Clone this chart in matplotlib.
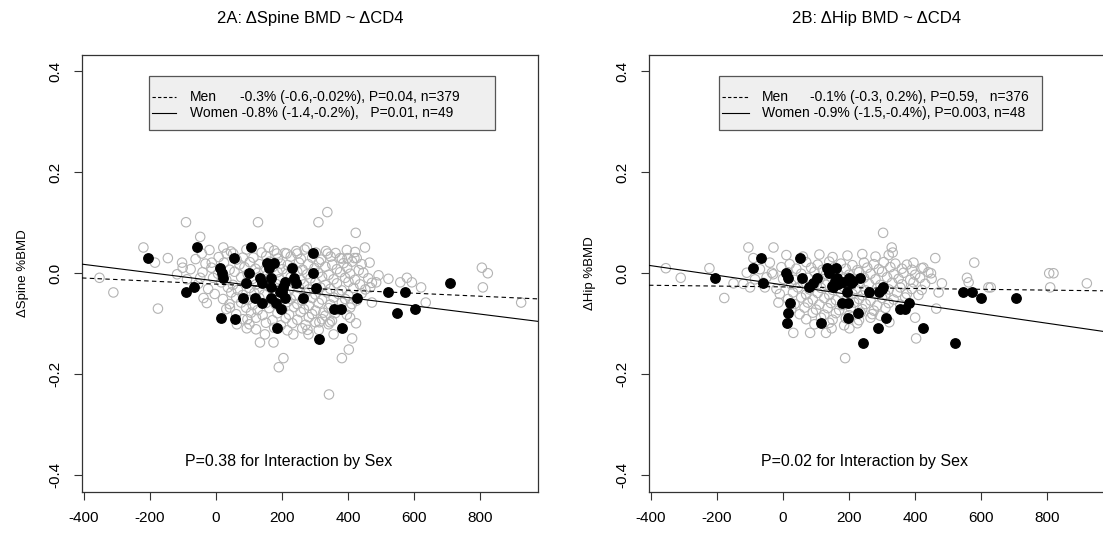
import numpy as np
import matplotlib
matplotlib.use("Agg")
import matplotlib.pyplot as plt
from matplotlib.patches import Rectangle

plt.rcParams["font.family"] = ["Liberation Sans", "DejaVu Sans"]
plt.rcParams["axes.unicode_minus"] = False

# ---- data ----------------------------------------------------------------
X_TICKS = [-400, -200, 0, 200, 400, 600, 800]
Y_TICKS = [-0.4, -0.2, 0.0, 0.2, 0.4]
Y_TICK_LABELS = ["-0.4", "-0.2", "0.0", "0.2", "0.4"]

# panel A: spine
spine_men = [
    (-353, -0.009), (-311, -0.038), (-220, 0.051), (-185, 0.021), (-176, -0.070),
    (-146, 0.030), (-103, 0.021), (-101, 0.011), (-91, 0.101), (-48, 0.072),
    (-43, 0.039), (-48, -0.009), (-38, -0.049), (-28, -0.059), (-13, 0.021),
    (22, 0.051), (32, 0.039), (42, -0.068), (52, 0.039), (63, -0.101),
    (81, 0.031), (93, -0.109), (95, -0.091), (127, 0.101), (133, -0.137),
    (148, -0.121), (174, -0.137), (159, 0.051), (184, 0.039), (204, -0.168),
    (190, -0.186), (214, 0.039), (234, -0.121), (246, 0.039), (275, 0.051),
    (277, -0.112), (280, -0.121), (310, 0.101), (313, -0.097), (325, -0.078),
    (337, 0.121), (338, 0.039), (345, -0.097), (356, -0.121), (376, 0.030),
    (381, -0.168), (402, -0.151), (412, -0.129), (398, 0.030), (423, 0.080),
    (419, 0.030), (426, 0.030), (406, -0.088), (424, -0.099), (451, 0.051),
    (465, 0.021), (472, -0.058), (485, -0.018), (467, -0.028), (558, -0.018),
    (578, -0.009), (593, -0.018), (621, -0.028), (635, -0.058), (805, 0.011),
    (823, 0.000), (808, -0.028), (924, -0.058), (342, -0.240),
    (-20, 0.046), (45, 0.043), (92, 0.047), (138, 0.041), (176, 0.045), (208, 0.040),
    (243, 0.044), (268, 0.047), (302, 0.041), (333, 0.044), (362, 0.040), (396, 0.046),
    (421, 0.042),
    (-62, 0.028), (8, 0.032), (62, 0.027), (113, 0.031), (152, 0.034), (187, 0.029),
    (226, 0.033), (257, 0.028), (291, 0.031), (318, 0.027), (347, 0.033), (381, 0.029),
    (-32, 0.019), (24, 0.021), (71, 0.017), (102, 0.022), (131, 0.018), (162, 0.023),
    (196, 0.019), (217, 0.016), (251, 0.021), (279, 0.018), (312, 0.022), (352, 0.017),
    (386, 0.020), (412, 0.023), (441, 0.018),
    (-77, 0.008), (-14, 0.011), (41, 0.007), (86, 0.012), (119, 0.009), (146, 0.006),
    (171, 0.012), (201, 0.008), (232, 0.011), (262, 0.007), (298, 0.010), (331, 0.013),
    (366, 0.008), (397, 0.011), (432, 0.006),
    (-118, -0.002), (-41, 0.002), (6, -0.001), (56, 0.003), (96, -0.002), (126, 0.001),
    (156, -0.003), (186, 0.002), (216, -0.001), (246, 0.003), (276, -0.002), (309, 0.001),
    (341, -0.003), (376, 0.002), (406, -0.001), (446, 0.001), (492, -0.004),
    (-88, -0.012), (-9, -0.009), (31, -0.013), (76, -0.008), (111, -0.011), (141, -0.014),
    (166, -0.009), (191, -0.012), (226, -0.008), (256, -0.013), (286, -0.010), (321, -0.007),
    (356, -0.012), (391, -0.009), (421, -0.013), (461, -0.010), (522, -0.011),
    (-54, -0.021), (16, -0.018), (51, -0.023), (91, -0.019), (121, -0.022), (151, -0.017),
    (181, -0.021), (206, -0.024), (236, -0.019), (266, -0.022), (301, -0.018), (331, -0.023),
    (366, -0.020), (401, -0.017), (436, -0.022), (472, -0.019),
    (-24, -0.031), (36, -0.028), (66, -0.033), (101, -0.029), (131, -0.032), (161, -0.027),
    (196, -0.031), (221, -0.034), (251, -0.029), (281, -0.032), (316, -0.028), (346, -0.031),
    (381, -0.034), (416, -0.029), (452, -0.032),
    (-4, -0.041), (46, -0.038), (81, -0.043), (116, -0.039), (146, -0.042), (176, -0.037),
    (211, -0.041), (241, -0.044), (271, -0.039), (301, -0.042), (336, -0.038), (371, -0.041),
    (401, -0.044), (441, -0.040),
    (21, -0.051), (61, -0.048), (96, -0.053), (131, -0.049), (166, -0.052), (196, -0.047),
    (226, -0.051), (261, -0.054), (291, -0.049), (321, -0.052), (356, -0.048), (391, -0.051),
    (426, -0.054),
    (41, -0.061), (76, -0.058), (111, -0.063), (151, -0.059), (181, -0.062), (216, -0.057),
    (246, -0.061), (281, -0.064), (311, -0.059), (346, -0.062), (381, -0.058), (411, -0.061),
    (31, -0.071), (91, -0.068), (126, -0.073), (161, -0.069), (201, -0.072), (236, -0.067),
    (266, -0.071), (301, -0.074), (341, -0.069), (371, -0.072), (406, -0.068),
    (61, -0.081), (106, -0.078), (141, -0.083), (186, -0.079), (221, -0.082), (256, -0.077),
    (291, -0.081), (331, -0.084), (361, -0.079), (396, -0.082),
    (81, -0.091), (121, -0.088), (171, -0.093), (211, -0.089), (246, -0.092), (281, -0.087),
    (321, -0.091), (351, -0.094),
    (101, -0.101), (151, -0.098), (196, -0.103), (231, -0.099), (271, -0.102), (301, -0.097),
    (341, -0.101),
    (121, -0.111), (176, -0.108), (216, -0.113), (261, -0.109), (311, -0.112),
]
spine_women = [
    (-207, 0.030), (-59, 0.051), (-91, -0.038), (-67, -0.028), (12, 0.010),
    (17, 0.001), (22, -0.009), (15, -0.089), (55, 0.030), (58, -0.090),
    (81, -0.049), (91, -0.020), (100, 0.000), (105, 0.051), (117, -0.049),
    (139, -0.020), (139, -0.059), (154, 0.021), (159, 0.011), (165, -0.009),
    (165, -0.028), (167, -0.049), (182, -0.059), (185, -0.109), (196, -0.070),
    (199, -0.038), (204, -0.028), (210, -0.018), (210, -0.049), (230, 0.011),
    (236, -0.009), (242, -0.020), (262, -0.049), (293, 0.041), (294, 0.001),
    (303, -0.029), (313, -0.131), (358, -0.070), (379, -0.070), (381, -0.109),
    (428, -0.049), (522, -0.038), (548, -0.079), (573, -0.038), (602, -0.070),
    (709, -0.020), (194, -0.038), (174, 0.021), (133, -0.009),
]
# fitted lines (intercept, slope per CD4 cell)
spine_fit_men = (-0.0215, -0.00003)
spine_fit_women = (-0.0153, -0.000082)

# panel B: hip
hip_men = [
    (-355, 0.010), (-310, -0.009), (-223, 0.010), (-178, -0.049), (-150, -0.020),
    (-105, 0.051), (-90, 0.030), (-29, 0.051), (-100, -0.028), (-55, -0.028),
    (-34, 0.001), (-14, -0.058), (31, -0.118), (82, -0.118), (130, -0.118),
    (147, -0.109), (188, -0.168), (201, -0.109), (303, 0.080), (329, 0.051),
    (332, 0.041), (395, 0.021), (420, 0.010), (461, 0.030), (448, 0.000),
    (464, -0.070), (471, -0.038), (481, -0.020), (400, -0.088), (403, -0.129),
    (579, 0.021), (557, -0.009), (562, -0.018), (622, -0.028), (629, -0.028),
    (806, 0.000), (819, 0.000), (809, -0.028), (920, -0.020), (322, -0.097),
    (294, -0.084),
    (10, 0.036), (60, 0.033), (110, 0.037), (150, 0.032), (195, 0.035), (240, 0.038),
    (280, 0.033), (320, 0.036),
    (-40, 0.021), (20, 0.018), (70, 0.022), (105, 0.017), (140, 0.023), (175, 0.019),
    (210, 0.016), (245, 0.021), (275, 0.018), (305, 0.022), (340, 0.019), (375, 0.017),
    (-70, 0.008), (-5, 0.012), (40, 0.009), (85, 0.011), (120, 0.007), (155, 0.012),
    (190, 0.009), (225, 0.006), (255, 0.011), (290, 0.008), (325, 0.012), (360, 0.009),
    (390, 0.007), (425, 0.011),
    (-110, 0.001), (-30, -0.002), (15, 0.002), (55, -0.001), (95, 0.003), (130, -0.002),
    (165, 0.001), (200, -0.003), (230, 0.002), (265, -0.001), (300, 0.003), (335, -0.002),
    (365, 0.001), (400, -0.003), (440, 0.002),
    (-85, -0.012), (-50, -0.008), (0, -0.011), (35, -0.013), (75, -0.009), (110, -0.012),
    (145, -0.007), (180, -0.011), (215, -0.013), (245, -0.009), (280, -0.012), (315, -0.008),
    (350, -0.011), (385, -0.013), (415, -0.009), (450, -0.011),
    (-120, -0.021), (-60, -0.019), (25, -0.022), (60, -0.018), (95, -0.021), (130, -0.023),
    (165, -0.019), (195, -0.022), (230, -0.018), (260, -0.021), (295, -0.023), (330, -0.019),
    (360, -0.022), (395, -0.018), (430, -0.021),
    (-20, -0.031), (45, -0.028), (80, -0.032), (115, -0.029), (150, -0.033), (185, -0.028),
    (220, -0.031), (250, -0.034), (285, -0.029), (320, -0.032), (355, -0.028), (390, -0.031),
    (420, -0.033),
    (-10, -0.041), (30, -0.038), (70, -0.042), (105, -0.039), (140, -0.043), (175, -0.038),
    (210, -0.041), (240, -0.044), (275, -0.039), (310, -0.042), (345, -0.038), (375, -0.041),
    (410, -0.043),
    (15, -0.051), (55, -0.048), (90, -0.052), (125, -0.049), (160, -0.053), (195, -0.048),
    (230, -0.051), (265, -0.054), (300, -0.049), (335, -0.052), (370, -0.048),
    (35, -0.061), (75, -0.058), (110, -0.062), (145, -0.059), (180, -0.063), (215, -0.058),
    (250, -0.061), (285, -0.064), (320, -0.059), (355, -0.062),
    (25, -0.071), (65, -0.068), (100, -0.072), (135, -0.069), (170, -0.073), (205, -0.068),
    (240, -0.071), (275, -0.074), (310, -0.069),
    (50, -0.081), (90, -0.078), (125, -0.082), (160, -0.079), (200, -0.083), (235, -0.078),
    (270, -0.081),
    (70, -0.091), (115, -0.088), (150, -0.092), (190, -0.089), (230, -0.093), (265, -0.088),
    (95, -0.101), (140, -0.098), (185, -0.103), (225, -0.099),
]
hip_women = [
    (-206, -0.009), (-92, 0.010), (-68, 0.030), (-62, -0.020), (9, 0.001),
    (16, -0.009), (21, -0.059), (16, -0.079), (11, -0.099), (51, 0.030),
    (57, -0.009), (80, -0.028), (92, -0.020), (102, -0.009), (116, -0.099),
    (134, 0.010), (140, 0.000), (161, 0.010), (163, -0.009), (152, -0.028),
    (165, -0.022), (178, -0.059), (183, -0.018), (193, -0.038), (198, -0.059),
    (196, -0.089), (201, -0.009), (205, -0.020), (228, -0.079), (233, -0.009),
    (241, -0.138), (259, -0.038), (289, -0.109), (292, -0.038), (299, -0.032),
    (304, -0.028), (311, -0.089), (354, -0.070), (370, -0.070), (380, -0.059),
    (423, -0.109), (522, -0.138), (546, -0.038), (573, -0.038), (600, -0.049),
    (705, -0.049), (158, -0.015), (147, -0.025), (213, -0.015),
]
hip_fit_men = (-0.027, -0.000008)
hip_fit_women = (-0.023, -0.000095)

PANELS = [
    {"title": "2A: \u0394Spine BMD ~ \u0394CD4", "ylabel": "\u0394Spine %BMD",
     "men": spine_men, "women": spine_women,
     "fit_men": spine_fit_men, "fit_women": spine_fit_women,
     "leg_men": ("Men", "-0.3% (-0.6,-0.02%), P=0.04, n=379"),
     "leg_women": "Women -0.8% (-1.4,-0.2%),   P=0.01, n=49",
     "note": "P=0.38 for Interaction by Sex", "note_x": 221,
     "left_px": 82, "leg_box": (0.147, 0.906), "leg_line": (0.154, 0.206),
     "leg_txt": (0.237, 0.346)},
    {"title": "2B: \u0394Hip BMD ~ \u0394CD4", "ylabel": "\u0394Hip %BMD",
     "men": hip_men, "women": hip_women,
     "fit_men": hip_fit_men, "fit_women": hip_fit_women,
     "leg_men": ("Men", "-0.1% (-0.3, 0.2%), P=0.59,   n=376"),
     "leg_women": "Women -0.9% (-1.5,-0.4%), P=0.003, n=48",
     "note": "P=0.02 for Interaction by Sex", "note_x": 247,
     "left_px": 649, "leg_box": (0.154, 0.862), "leg_line": (0.160, 0.219),
     "leg_txt": (0.248, 0.353)},
]

W, H = 1103, 533
XLIM = (-406, 975)
YLIM = (-0.433, 0.432)

fig = plt.figure(figsize=(W / 100, H / 100), dpi=100)
fig.patch.set_facecolor("white")

for p in PANELS:
    ax = fig.add_axes([p["left_px"] / W, 41 / H, 456 / W, 437 / H])
    men = np.array(p["men"])
    women = np.array(p["women"])
    ax.scatter(men[:, 0], men[:, 1], s=46, facecolors="none",
               edgecolors="#b3b3b3", linewidths=0.8, zorder=2)
    ax.scatter(women[:, 0], women[:, 1], s=46, color="black", zorder=3)

    xs = np.array(XLIM, dtype=float)
    b, m = p["fit_men"]
    ax.plot(xs, b + m * xs, color="black", lw=0.8, ls=(0, (4, 3)), zorder=4)
    b, m = p["fit_women"]
    ax.plot(xs, b + m * xs, color="black", lw=0.8, zorder=4)

    ax.set_xlim(XLIM)
    ax.set_ylim(YLIM)
    ax.set_xticks(X_TICKS, [str(v) for v in X_TICKS])
    ax.set_yticks(Y_TICKS, Y_TICK_LABELS, rotation=90, va="center")
    ax.tick_params(direction="out", length=5.8, width=0.8, labelsize=11,
                   color="#333333", pad=8)
    for sp in ax.spines.values():
        sp.set_linewidth(0.9)
        sp.set_color("#333333")
    ax.set_ylabel(p["ylabel"], fontsize=9.5, labelpad=14)

    # legend box drawn like R's legend()
    x0, x1 = p["leg_box"]
    ax.add_patch(Rectangle((x0, 0.828), x1 - x0, 0.124, transform=ax.transAxes,
                           facecolor="#efefef", edgecolor="#555555", lw=0.9, zorder=5))
    l0, l1 = p["leg_line"]
    t0, t1 = p["leg_txt"]
    ax.plot([l0, l1], [0.904, 0.904], transform=ax.transAxes, color="black",
            lw=0.8, ls=(0, (3, 2)), zorder=6)
    ax.plot([l0, l1], [0.867, 0.867], transform=ax.transAxes, color="black",
            lw=0.8, zorder=6)
    ax.text(t0, 0.904, p["leg_men"][0], transform=ax.transAxes, fontsize=10,
            va="center", ha="left", zorder=6)
    ax.text(t1, 0.904, p["leg_men"][1], transform=ax.transAxes, fontsize=10,
            va="center", ha="left", zorder=6)
    ax.text(t0, 0.867, p["leg_women"], transform=ax.transAxes, fontsize=10,
            va="center", ha="left", zorder=6)

    ax.text(p["note_x"], -0.372, p["note"], fontsize=11.5, ha="center", va="center")

    cx = (p["left_px"] + 228) / W
    fig.text(cx, 1 - 18 / H, p["title"], fontsize=12, ha="center", va="center")

fig.savefig("out.png", dpi=100, facecolor="white")
